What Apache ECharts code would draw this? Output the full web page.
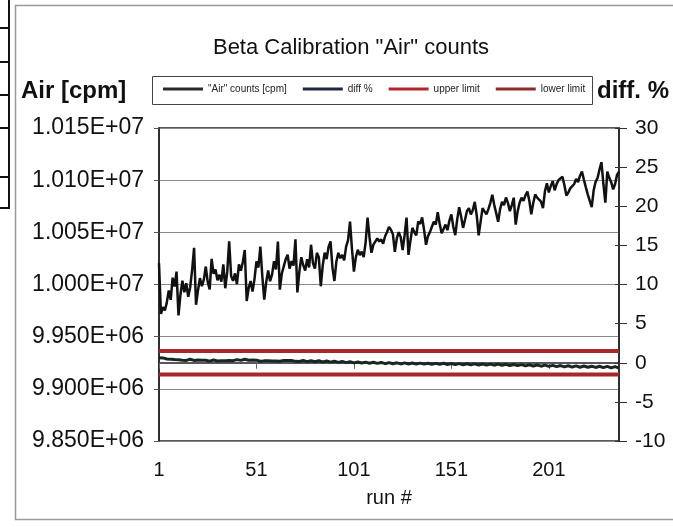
<!DOCTYPE html>
<html>
<head>
<meta charset="utf-8">
<title>Beta Calibration "Air" counts</title>
<script src="https://cdn.jsdelivr.net/npm/echarts@6/dist/echarts.min.js"></script>
<style>
  html, body { margin: 0; padding: 0; background: #ffffff; }
  #chart { width: 673px; height: 527px; }
</style>
</head>
<body>
<div id="chart"></div>
<script>
// "Air" counts per run [cpm]
const airCounts = [
  10020400, 9971800, 9978300, 9975100, 9982600, 9994200, 9985300, 10006500, 9998100, 10012300,
  9970400, 9990200, 10003600, 9992500, 10001200, 9988300, 9997400, 10014100, 10035200, 9980600,
  9994300, 10006100, 9998400, 10004700, 10017200, 10002500, 9995300, 10024600, 10010200, 10014400,
  10004100, 10009300, 10002800, 10019200, 9996400, 10012100, 10041300, 10008200, 10003500, 10010600,
  10000300, 10019400, 10013200, 10021500, 10033100, 9984200, 9996500, 10003300, 9993200, 10005400,
  10022100, 10016300, 10036400, 10008100, 9985400, 10002200, 10013500, 10003100, 10009400, 10022300,
  10014500, 10041200, 9995100, 10010400, 10017300, 10024100, 10028500, 10015200, 10022400, 10018100,
  10043300, 9992400, 10012200, 10026100, 10018500, 10013300, 10024200, 10016400, 10038100, 10020300,
  10015200, 10030400, 10026100, 9998300, 10018200, 10030500, 10024300, 10036100, 10041400, 10016200,
  10003400, 10022100, 10030300, 10025200, 10028400, 10023100, 10036300, 10042500, 10060200, 10034100,
  10012400, 10026200, 10033300, 10028100, 10031500, 10026300, 10040200, 10064100, 10045300, 10030400,
  10038200, 10040100, 10044300, 10041200, 10043400, 10039100, 10046200, 10050300, 10055100, 10052400,
  10048200, 10031300, 10044100, 10050200, 10045400, 10033100, 10047300, 10064200, 10028400, 10042100,
  10054300, 10050100, 10047200, 10060400, 10058100, 10064300, 10052200, 10038100, 10046400, 10050200,
  10055300, 10060100, 10057400, 10069200, 10058300, 10049100, 10053200, 10057400, 10052100, 10061300,
  10067200, 10055100, 10047300, 10062400, 10074100, 10065200, 10054300, 10062100, 10070400, 10073200,
  10067100, 10071300, 10079200, 10066400, 10047100, 10060300, 10073200, 10070100, 10067400, 10072200,
  10078300, 10086100, 10076200, 10068400, 10060100, 10072300, 10079200, 10076100, 10083400, 10078200,
  10070300, 10076100, 10083200, 10057400, 10070100, 10078300, 10083100, 10080200, 10085400, 10089100,
  10080300, 10067200, 10078100, 10086300, 10083200, 10084100, 10079400, 10073200, 10089300, 10097100,
  10088200, 10094400, 10099100, 10090300, 10096200, 10100100, 10098400, 10103200, 10095100, 10085300,
  10088200, 10092100, 10090400, 10096300, 10101200, 10098100, 10104300, 10108200, 10100400, 10093100,
  10086200, 10085300, 10074100, 10090200, 10098400, 10102100, 10110300, 10117200, 10096100, 10078400,
  10108200, 10102300, 10098100, 10091200, 10096300, 10105100, 10108200
];

// deviation per run [%]
const diffPercent = [
  0.65, 0.58, 0.62, 0.52, 0.48, 0.55, 0.44, 0.50, 0.40, 0.47,
  0.38, 0.45, 0.33, 0.40, 0.30, 0.38, 0.45, 0.36, 0.30, 0.41,
  0.35, 0.28, 0.33, 0.40, 0.31, 0.26, 0.20, 0.29, 0.35, 0.27,
  0.22, 0.30, 0.25, 0.18, 0.26, 0.33, 0.29, 0.21, 0.27, 0.34,
  0.40, 0.36, 0.30, 0.38, 0.45, 0.39, 0.32, 0.41, 0.36, 0.29,
  0.33, 0.27, 0.20, 0.28, 0.24, 0.17, 0.25, 0.30, 0.22, 0.15,
  0.21, 0.27, 0.19, 0.24, 0.30, 0.36, 0.28, 0.22, 0.30, 0.25,
  0.18, 0.24, 0.16, 0.22, 0.29, 0.21, 0.14, 0.20, 0.26, 0.18,
  0.12, 0.19, 0.25, 0.17, 0.10, 0.16, 0.23, 0.15, 0.08, 0.14,
  0.20, 0.12, 0.05, 0.11, 0.17, 0.09, 0.02, 0.08, 0.13, 0.04,
  -0.02, 0.05, 0.10, 0.03, -0.04, 0.02, 0.08, 0.00, -0.06, 0.01,
  0.06, -0.02, -0.08, -0.01, 0.04, -0.05, -0.12, -0.04, 0.02, -0.07,
  -0.13, -0.06, -0.01, -0.09, -0.15, -0.08, -0.02, -0.10, -0.16, -0.09,
  -0.04, -0.11, -0.17, -0.10, -0.05, -0.12, -0.18, -0.11, -0.06, -0.13,
  -0.20, -0.14, -0.08, -0.15, -0.21, -0.13, -0.07, -0.16, -0.22, -0.15,
  -0.10, -0.17, -0.24, -0.16, -0.11, -0.19, -0.25, -0.18, -0.12, -0.20,
  -0.27, -0.19, -0.14, -0.22, -0.28, -0.21, -0.15, -0.23, -0.30, -0.22,
  -0.17, -0.25, -0.31, -0.24, -0.18, -0.26, -0.33, -0.25, -0.20, -0.28,
  -0.35, -0.27, -0.22, -0.30, -0.37, -0.29, -0.24, -0.33, -0.40, -0.31,
  -0.26, -0.35, -0.42, -0.34, -0.28, -0.37, -0.44, -0.36, -0.30, -0.39,
  -0.47, -0.40, -0.33, -0.42, -0.50, -0.43, -0.36, -0.45, -0.53, -0.44,
  -0.38, -0.47, -0.55, -0.46, -0.40, -0.49, -0.57, -0.48, -0.42, -0.51,
  -0.58, -0.50, -0.44, -0.53, -0.60, -0.52, -0.45, -0.56, -0.62, -0.54,
  -0.47, -0.58, -0.66, -0.55, -0.49, -0.60, -0.68
];

// acceptance limits [%]
const upperLimitValue = 1.5;
const lowerLimitValue = -1.5;

// run numbers 1..N
const runs = airCounts.map((_, i) => String(i + 1));
const upperLimit = runs.map(() => upperLimitValue);
const lowerLimit = runs.map(() => lowerLimitValue);

const FONT = 'Liberation Sans, Arial, sans-serif';

function sciLabel(v) {
  const e = Math.floor(Math.log10(v) + 1e-9);
  const m = v / Math.pow(10, e);
  return m.toFixed(3) + 'E+' + String(e).padStart(2, '0');
}

const chart = echarts.init(document.getElementById('chart'), null, { renderer: 'canvas' });

chart.setOption({
  backgroundColor: '#ffffff',
  animation: false,
  textStyle: { fontFamily: FONT },
  title: {
    text: 'Beta Calibration "Air" counts',
    left: 346,
    top: 32,
    textAlign: 'center',
    textStyle: { fontFamily: FONT, fontSize: 22, fontWeight: 'normal', color: '#111' }
  },
  legend: {
    left: 163,
    top: 84,
    itemWidth: 40,
    itemHeight: 3,
    itemGap: 16,
    padding: 0,
    icon: 'rect',
    textStyle: { fontFamily: FONT, fontSize: 10, color: '#222' },
    data: ['"Air" counts [cpm]', 'diff %', 'upper limit', 'lower limit']
  },
  graphic: [
    // page frame
    { type: 'rect', shape: { x: 15.5, y: 5.5, width: 680, height: 514 },
      style: { fill: null, stroke: '#9a9a9a', lineWidth: 1.5 }, silent: true, z: -10 },
    // legend box
    { type: 'rect', shape: { x: 152.5, y: 76.5, width: 440, height: 28 },
      style: { fill: null, stroke: '#444', lineWidth: 1 }, silent: true },
    // axis captions
    { type: 'text', left: 21, top: 79,
      style: { text: 'Air [cpm]', font: 'bold 24px ' + FONT, fill: '#111' } },
    { type: 'text', left: 597, top: 79,
      style: { text: 'diff. %', font: 'bold 24px ' + FONT, fill: '#111' } },
    // neighbouring table edge
    { type: 'polyline', shape: { points: [[9, 0], [9, 208], [0, 208]] },
      style: { stroke: '#111', lineWidth: 2, fill: null }, silent: true },
    { type: 'line', shape: { x1: 0, y1: 28, x2: 9, y2: 28 }, style: { stroke: '#111', lineWidth: 2 } },
    { type: 'line', shape: { x1: 0, y1: 62, x2: 9, y2: 62 }, style: { stroke: '#111', lineWidth: 2 } },
    { type: 'line', shape: { x1: 0, y1: 95, x2: 9, y2: 95 }, style: { stroke: '#111', lineWidth: 2 } },
    { type: 'line', shape: { x1: 0, y1: 128, x2: 9, y2: 128 }, style: { stroke: '#111', lineWidth: 2 } },
    { type: 'line', shape: { x1: 0, y1: 177, x2: 9, y2: 177 }, style: { stroke: '#111', lineWidth: 2 } }
  ],
  grid: {
    left: 159,
    right: 54,
    top: 128,
    bottom: 86,
    show: true,
    backgroundColor: '#ffffff',
    borderColor: '#222',
    borderWidth: 1.5
  },
  xAxis: {
    type: 'category',
    data: runs,
    boundaryGap: false,
    name: 'run #',
    nameLocation: 'middle',
    nameGap: 47,
    nameTextStyle: { fontFamily: FONT, fontSize: 20, color: '#111' },
    axisLine: { lineStyle: { color: '#222', width: 1.5 } },
    axisTick: { interval: 49, length: 6, lineStyle: { color: '#666' } },
    axisLabel: { interval: 49, margin: 19, fontFamily: FONT, fontSize: 20, color: '#111' },
    splitLine: { show: false }
  },
  yAxis: [
    {
      type: 'value',
      min: 9850000,
      max: 10150000,
      interval: 50000,
      position: 'left',
      axisLine: { show: true, lineStyle: { color: '#222', width: 1.5 } },
      axisTick: { show: true, length: 5, lineStyle: { color: '#555' } },
      axisLabel: { formatter: sciLabel, margin: 15, fontFamily: FONT, fontSize: 23, color: '#111' },
      splitLine: { show: true, lineStyle: { color: '#8a8a8a', width: 1 } }
    },
    {
      type: 'value',
      min: -10,
      max: 30,
      interval: 5,
      position: 'right',
      axisLine: { show: true, lineStyle: { color: '#222', width: 1.5 } },
      axisTick: { show: true, length: 8, lineStyle: { color: '#333' } },
      axisLabel: { margin: 16, fontFamily: FONT, fontSize: 21, color: '#111' },
      splitLine: { show: false }
    },
    {
      type: 'value',
      min: -10,
      max: 30,
      interval: 5,
      position: 'right',
      axisLine: { show: false },
      axisTick: { show: true, inside: true, length: 4, lineStyle: { color: '#333' } },
      axisLabel: { show: false },
      splitLine: { show: false }
    }
  ],
  series: [
    {
      name: 'upper limit',
      type: 'line',
      yAxisIndex: 1,
      data: upperLimit,
      symbol: 'none',
      color: '#b0262b',
      lineStyle: { color: '#a8282a', width: 4 },
      z: 2
    },
    {
      name: 'lower limit',
      type: 'line',
      yAxisIndex: 1,
      data: lowerLimit,
      symbol: 'none',
      color: '#8e2a2a',
      lineStyle: { color: '#a8282a', width: 4 },
      z: 2
    },
    {
      name: 'diff %',
      type: 'line',
      yAxisIndex: 1,
      data: diffPercent,
      symbol: 'none',
      color: '#1c2a3c',
      lineStyle: { color: '#1b2620', width: 3 },
      z: 3
    },
    {
      name: '"Air" counts [cpm]',
      type: 'line',
      yAxisIndex: 0,
      data: airCounts,
      symbol: 'none',
      color: '#2a2a2a',
      lineStyle: { color: '#111111', width: 2.5 },
      z: 4
    }
  ]
});
</script>
</body>
</html>
